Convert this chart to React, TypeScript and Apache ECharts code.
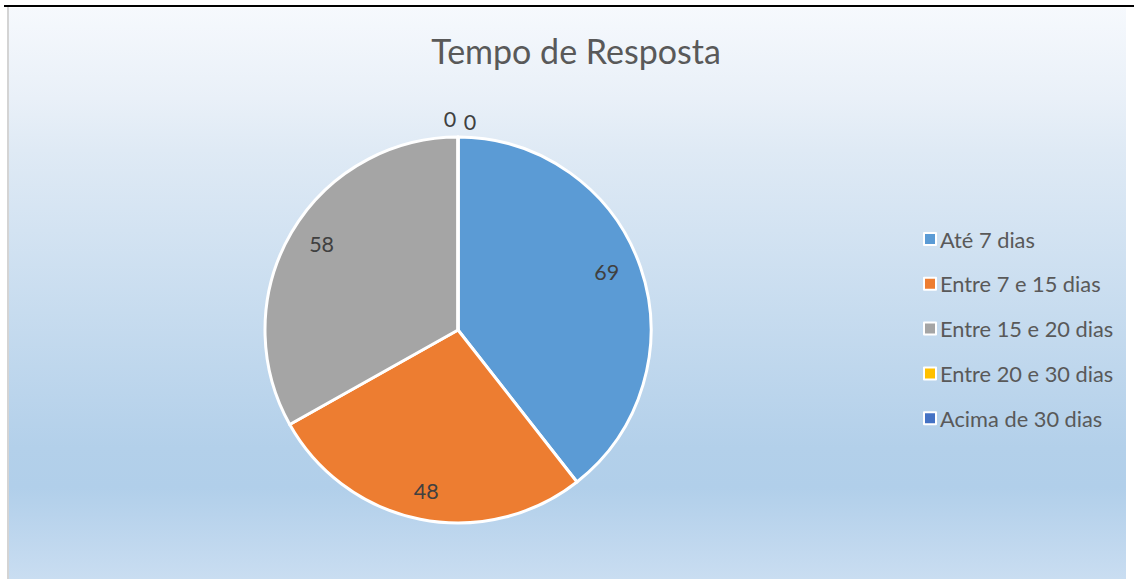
import React, { useEffect, useRef } from "react";
import * as echarts from "echarts";

const categories = ["Até 7 dias", "Entre 7 e 15 dias", "Entre 15 e 20 dias", "Entre 20 e 30 dias", "Acima de 30 dias"];
const values = [69, 48, 58, 0, 0];
const colors = ["#5b9bd5", "#ed7d31", "#a5a5a5", "#ffc000", "#4472c4"];
const title = "Tempo de Resposta";

export default function App() {
  const ref = useRef<HTMLDivElement>(null);
  useEffect(() => {
    if (!ref.current) return;
    const chart = echarts.init(ref.current, null, { renderer: "svg" });
    const labelOffsets: Record<number, number[]> = { 0: [-4, -5], 1: [0, 3], 2: [3, -4], 3: [-8, -50], 4: [12, -47] };
    chart.setOption({
      animation: false,
      backgroundColor: {
        type: "linear", x: 0, y: 0, x2: 0, y2: 1,
        colorStops: [
          { offset: 0, color: "#f6f9fd" },
          { offset: 0.16, color: "#e9f0f8" },
          { offset: 0.25, color: "#dfeaf5" },
          { offset: 0.77, color: "#b3d0ea" },
          { offset: 0.84, color: "#b1cfea" },
          { offset: 1, color: "#c9ddf1" },
        ],
      },
      title: {
        text: title,
        left: 563,
        top: 21,
        textAlign: "center",
        textStyle: { fontFamily: "Lato", fontSize: 34, fontWeight: "normal", color: "#595959" },
      },
      legend: {
        orient: "vertical",
        left: 910,
        top: 216,
        itemGap: 22.8,
        itemWidth: 12,
        itemHeight: 12,
        icon: "rect",
        data: categories,
        itemStyle: { borderColor: "#ffffff", borderWidth: 2 },
        textStyle: { fontFamily: "Lato", fontSize: 21.8, color: "#595959", padding: [0, 0, 0, -1] },
      },
      series: [
        {
          type: "pie",
          center: [450, 323],
          radius: [0, 193],
          startAngle: 90,
          clockwise: true,
          silent: true,
          label: { show: false },
          labelLine: { show: false },
          itemStyle: { borderColor: "#ffffff", borderWidth: 3 },
          data: categories.map((c, i) => ({ name: c, value: values[i], itemStyle: { color: colors[i] } })),
        },
        {
          type: "pie",
          center: [450, 323],
          radius: [124, 193],
          startAngle: 90,
          clockwise: true,
          silent: true,
          legendHoverLink: false,
          labelLine: { show: false },
          itemStyle: { color: "rgba(0,0,0,0)", borderWidth: 0 },
          label: {
            show: true,
            position: "inside",
            formatter: "{c}",
            fontFamily: "Lato",
            fontSize: 21.5,
            color: "#404040",
          },
          data: categories.map((c, i) => ({
            name: c + " ",
            value: values[i],
            label: labelOffsets[i] ? { offset: labelOffsets[i] } : undefined,
          })),
        },
      ],
    });
    return () => chart.dispose();
  }, []);
  return (
    <div style={{ position: "relative", width: 1126, height: 571 }}>
      <div ref={ref} style={{ position: "absolute", left: 0, top: -1, width: 1126, height: 572 }} />
      <div style={{ position: "fixed", left: 7, top: 7, width: 2, height: 572, background: "#d4d4d4", zIndex: 5 }} />
      <div style={{ position: "fixed", left: 4, top: 5, width: 1130, height: 2, background: "#000000", zIndex: 6 }} />
    </div>
  );
}
